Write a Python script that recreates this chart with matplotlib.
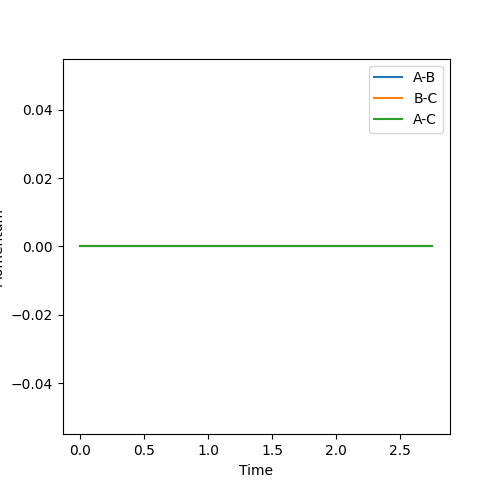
import matplotlib
matplotlib.use("Agg")
import matplotlib.pyplot as plt

# time samples and momentum per pair (all flat at zero)
TIME = [0.0, 0.25, 0.5, 0.75, 1.0, 1.25, 1.5, 1.75, 2.0, 2.25, 2.5, 2.75]
MOMENTUM_AB = [0.0] * len(TIME)
MOMENTUM_BC = [0.0] * len(TIME)
MOMENTUM_AC = [0.0] * len(TIME)

SERIES = [
    ("A-B", MOMENTUM_AB),
    ("B-C", MOMENTUM_BC),
    ("A-C", MOMENTUM_AC),
]


def main():
    figure, axis = plt.subplots(figsize=(5, 4.88), dpi=100)

    for label, values in SERIES:
        axis.plot(TIME, values, label=label)

    axis.set_xlabel("Time")
    axis.set_ylabel("Momentum")
    axis.legend(loc="upper right")

    figure.savefig("out.png", dpi=100)
    plt.close(figure)


if __name__ == "__main__":
    main()
